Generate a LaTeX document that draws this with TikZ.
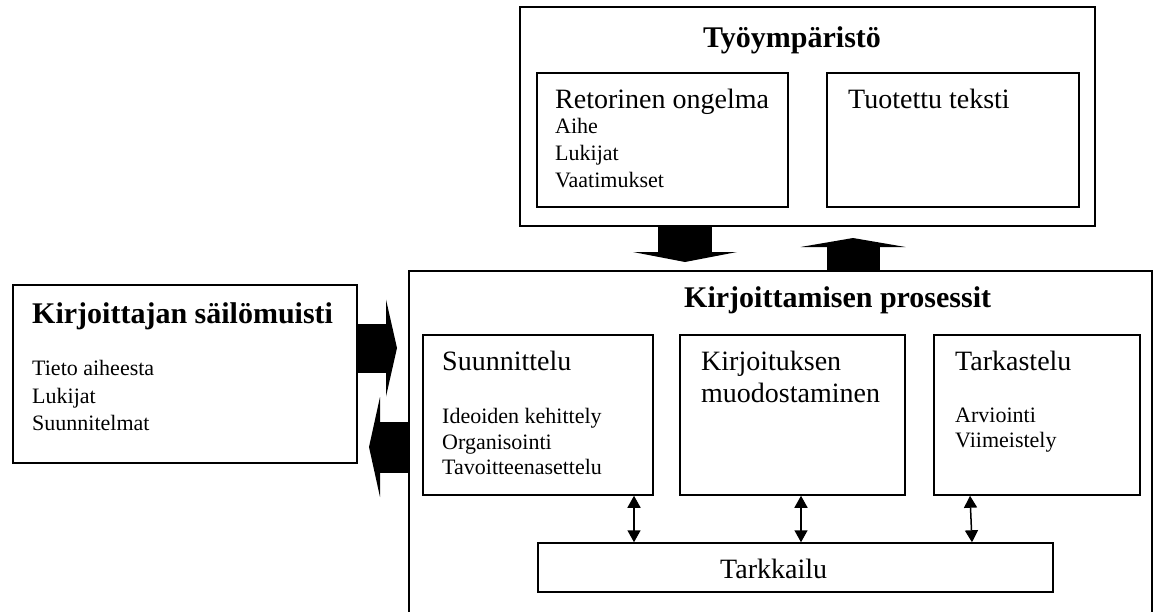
\documentclass[tikz,border=0pt]{standalone}
\usepackage{fontspec}
\setmainfont{Liberation Serif}
\usetikzlibrary{arrows.meta}

\begin{document}
\begin{tikzpicture}[x=1pt,y=-1pt,
    box/.style={draw,line width=1.5pt,inner sep=0pt},
    head/.style={anchor=base west,inner sep=0pt,font=\fontsize{30}{36}\selectfont\bfseries},
    sub/.style={anchor=base west,inner sep=0pt,font=\fontsize{28}{32}\selectfont},
    item/.style={anchor=base west,inner sep=0pt,font=\fontsize{22}{27}\selectfont},
    blockarrow/.style n args={3}{line width=#1,-{Triangle[length=#2,width=#3,line width=0pt]}},
    twoway/.style={line width=1.5pt,arrows={Triangle[length=12pt,width=13pt]-Triangle[length=12pt,width=13pt]}}]
    \clip (0,0) rectangle (1154,611);

    % boxes
    \node[box,minimum width=575pt,minimum height=219pt] (env) at (807.5,116.5) {};
    \node[box,minimum width=251pt,minimum height=134pt] (rhet) at (662.5,140) {};
    \node[box,minimum width=252pt,minimum height=134pt] (prod) at (953,140) {};

    \node[box,minimum width=344pt,minimum height=178pt] (mem) at (185,374) {};

    \node[box,minimum width=743pt,minimum height=380pt] (proc) at (780.5,461) {};
    \node[box,minimum width=230pt,minimum height=160pt] (plan) at (538,415) {};
    \node[box,minimum width=225pt,minimum height=160pt] (write) at (792.5,415) {};
    \node[box,minimum width=206pt,minimum height=160pt] (review) at (1037,415) {};
    \node[box,minimum width=515pt,minimum height=49pt] (monitor) at (795.5,567.5) {};

    % labels
    \node[head] (envlabel) at (703,47) {Työympäristö};
    \node[sub] (rhetlabel) at (555,108) {Retorinen ongelma};
    \foreach \t/\y [count=\i] in {Aihe/133,Lukijat/160,Vaatimukset/187}
    \node[item] (rhetitem\i) at (555,\y) {\t};
    \node[sub] (prodlabel) at (848,108) {Tuotettu teksti};

    \node[head] (memlabel) at (32,323) {Kirjoittajan säilömuisti};
    \foreach \t/\y [count=\i] in {Tieto aiheesta/375,Lukijat/403,Suunnitelmat/430}
    \node[item] (memitem\i) at (32,\y) {\t};

    \node[head] (proclabel) at (684,307) {Kirjoittamisen prosessit};
    \node[sub] (planlabel) at (442,370) {Suunnittelu};
    \foreach \t/\y [count=\i] in {Ideoiden kehittely/423,Organisointi/449,Tavoitteenasettelu/474}
    \node[item] (planitem\i) at (442,\y) {\t};
    \node[sub] (writelabel1) at (701,370) {Kirjoituksen};
    \node[sub] (writelabel2) at (701,402) {muodostaminen};
    \node[sub] (reviewlabel) at (955,370) {Tarkastelu};
    \foreach \t/\y [count=\i] in {Arviointi/422,Viimeistely/447}
    \node[item] (reviewitem\i) at (955,\y) {\t};
    \node[sub] (monlabel) at (720,578) {Tarkkailu};

    % block arrows
    \coordinate (downtip) at (685,262);
    \coordinate (uptip) at (853,238);
    \coordinate (righttip) at (397,348);
    \coordinate (lefttip) at (369,447);
    \draw[blockarrow={54pt}{10pt}{104pt}] (env.south -| 685,0) -- (downtip);
    \draw[blockarrow={53pt}{9pt}{105pt}] (proc.north -| 853,0) -- (uptip);
    \draw[blockarrow={49pt}{11pt}{97pt}] (mem.east |- 0,348) -- (righttip);
    \draw[blockarrow={51pt}{11pt}{100pt}] (proc.west |- 0,447) -- (lefttip);

    % monitoring
    \draw[twoway] (plan.south -| 634,0) -- (monitor.north -| 634,0);
    \draw[twoway] (write.south -| 801,0) -- (monitor.north -| 801,0);
    \draw[twoway] (review.south -| 970,0) -- (monitor.north -| 972,0);
\end{tikzpicture}
\end{document}
